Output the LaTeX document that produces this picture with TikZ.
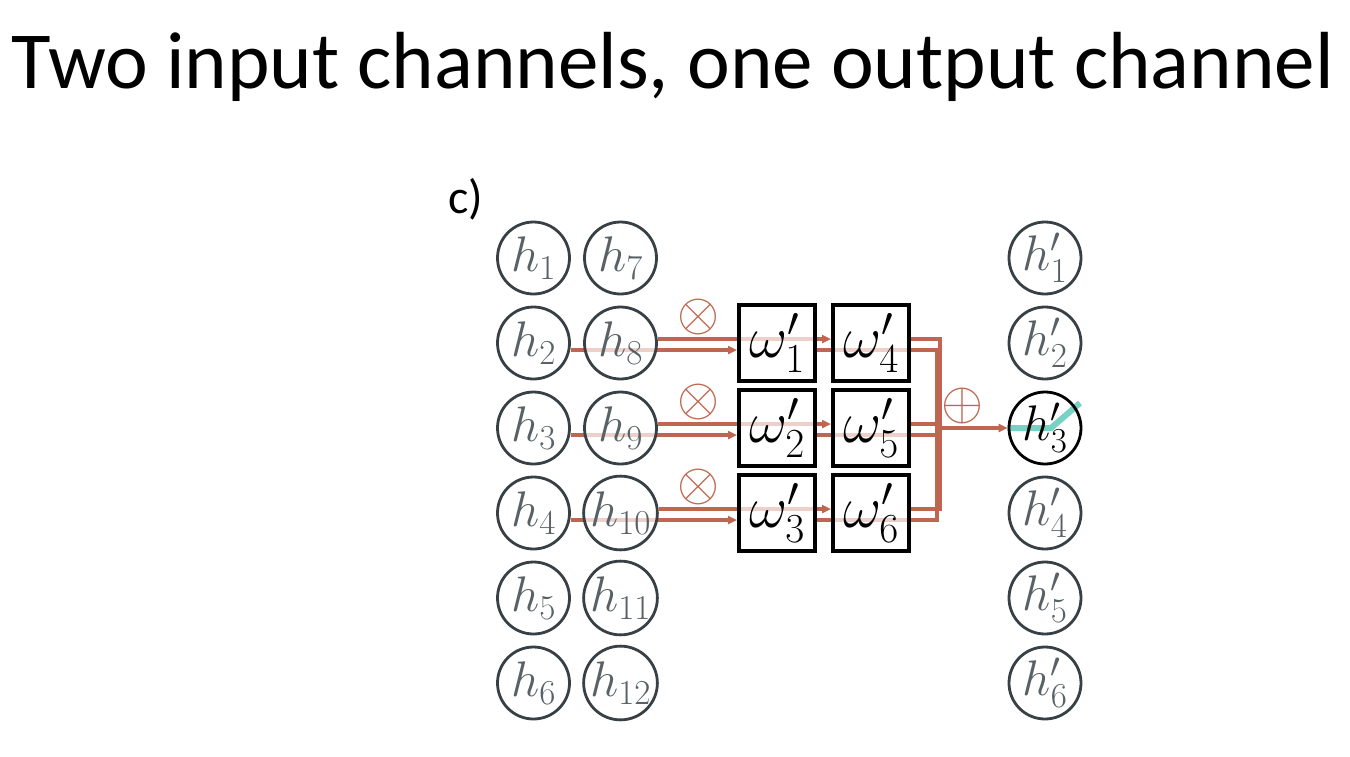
\RequirePackage{fix-cm}
\documentclass[tikz,border=0pt]{standalone}
\usepackage{fontspec}
\newfontfamily\calib{Carlito}
\usetikzlibrary{arrows.meta,backgrounds}

\definecolor{wirecol}{RGB}{190,102,80}
\definecolor{ringcol}{RGB}{55,64,68}
\definecolor{labcol}{RGB}{88,98,102}
\definecolor{relucol}{RGB}{120,210,195}

\tikzset{
  hnode/.style={circle,draw=ringcol,line width=2.8pt,minimum size=72pt,inner sep=0pt,
    fill=white,fill opacity=0.7,text opacity=1,text=labcol,font=\fontsize{50}{60}\selectfont},
  wbox/.style={rectangle,draw=black,line width=4pt,minimum size=76pt,inner sep=0pt,
    fill=white,fill opacity=0.7,text opacity=1,font=\fontsize{59}{70}\selectfont},
  opnode/.style={inner sep=0pt,text=wirecol,font=\fontsize{54}{64}\selectfont},
  wire/.style={draw=wirecol,line width=3.5pt},
  wtip/.style={-{Triangle[length=9pt,width=8pt]}},
}

\begin{document}
\begin{tikzpicture}[x=1pt, y=-1pt]

  %% ════ title ════
  \node[font=\calib\fontsize{81}{97}\selectfont,anchor=base] (title) at (673,88) {Two input channels, one output channel};
  \node[font=\calib\fontsize{48}{58}\selectfont,anchor=base west] (tag) at (445,213) {c)};

  %% ════ input / output units ════
  \foreach \i/\y in {1/258,2/343,3/428,4/513,5/598,6/683} {
    \pgfmathtruncatemacro\j{\i+6}
    \node[hnode] (h\i) at (533.5,\y) {$h_{\i}$};
    \node[hnode] (h\j) at (620.5,\y) {$h_{\j}$};
  }
  \foreach \i/\y in {1/258,2/343,4/513,5/598,6/683}
    \node[hnode] (g\i) at (1045,\y) {$h'_{\i}$};
  \node[hnode,draw=black,text=black,fill=none] (g3) at (1045,428) {$h'_{3}$};

  %% ════ weights + operators ════
  \foreach \i/\y in {1/343,2/428,3/513} {
    \pgfmathtruncatemacro\j{\i+3}
    \node[wbox] (w\i) at (777,\y) {$\omega'_{\i}$};
    \node[wbox] (w\j) at (871,\y) {$\omega'_{\j}$};
    \node[opnode] (x\i) at (698,\y-26) {$\otimes$};
  }
  \node[opnode] (sum) at (962,406) {$\oplus$};

  %% ════ wires (behind the half-white units) ════
  \begin{scope}[on background layer]
    \foreach \i in {1,2,3} {
      \pgfmathtruncatemacro\a{\i+1}
      \pgfmathtruncatemacro\b{\i+7}
      \pgfmathtruncatemacro\c{\i+3}
      \draw[wire,wtip] ([yshift=-7pt]h\a.east) -- ([yshift=-7pt]w\i.west);
      \draw[wire,wtip] ([yshift=4pt]h\b.east) -- ([yshift=4pt]w\c.west);
    }
    % upper bus
    \draw[wire] ([yshift=4pt]w4.east) -| ([shift={(29pt,4pt)}]w6.east) -- ([yshift=4pt]w6.east);
    \draw[wire] ([yshift=4pt]w5.east) -- ([shift={(29pt,4pt)}]w5.east);
    % lower bus
    \draw[wire] ([yshift=-7pt]w1.east) -| ([shift={(26pt,-7pt)}]w6.east) -- ([yshift=-7pt]w3.east);
    \draw[wire] ([yshift=-7pt]w2.east) -- ([shift={(26pt,-7pt)}]w5.east);
    % sum -> h'3
    \draw[wire,wtip] ([xshift=27pt]w5.east) -- (g3.west);
    \draw[relucol,line width=6pt] (g3.west) -- ([xshift=6pt]g3.center) -- ([shift={(35pt,25pt)}]g3.center);
  \end{scope}

  \pgfresetboundingbox
  \path[use as bounding box] (0,0) rectangle (1350,756);
\end{tikzpicture}
\end{document}
